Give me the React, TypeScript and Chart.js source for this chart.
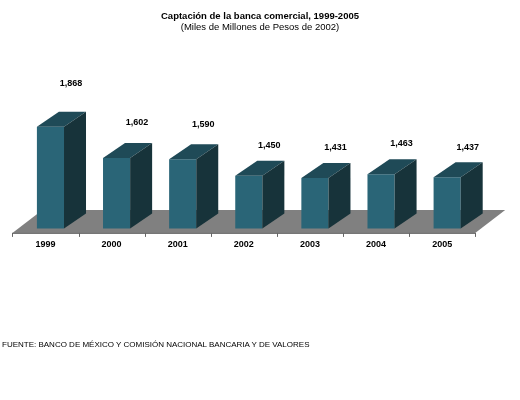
import React, { useEffect, useRef } from "react";
import { Chart, registerables } from "chart.js";

Chart.register(...registerables);

const years = ["1999", "2000", "2001", "2002", "2003", "2004", "2005"];
const captacion = [1868, 1602, 1590, 1450, 1431, 1463, 1437];
const yMin = 1000;
const yMax = 2000;

const titleText = "Captación de la banca comercial, 1999-2005";
const subtitleText = "(Miles de Millones de Pesos de 2002)";
const footerText = "FUENTE: BANCO DE MÉXICO Y COMISIÓN NACIONAL BANCARIA Y DE VALORES";

const FONT = "'Liberation Sans', Arial, Helvetica, sans-serif";
const FRONT = "#2a6577";
const TOP = "#1f4a57";
const SIDE = "#17333a";
const FLOOR = "#808080";
const BAR_DX = 22;
const BAR_DY = -15;
const FLOOR_DX = 30;
const FLOOR_DY = -23;
const FRONT_GAP_X = -5;
const FRONT_GAP_Y = 4.5;

const threeD = {
  id: "threeD",
  beforeDatasetsDraw(chart: any) {
    const { ctx, chartArea } = chart;
    const xs = chart.scales.x;
    const left = chartArea.left + FRONT_GAP_X;
    const right = chartArea.right + FRONT_GAP_X;
    const fy = chartArea.bottom + FRONT_GAP_Y;
    ctx.save();
    ctx.fillStyle = FLOOR;
    ctx.beginPath();
    ctx.moveTo(left, fy);
    ctx.lineTo(right, fy);
    ctx.lineTo(right + FLOOR_DX, fy + FLOOR_DY);
    ctx.lineTo(left + FLOOR_DX, fy + FLOOR_DY);
    ctx.closePath();
    ctx.fill();
    // axis line and tick marks
    ctx.strokeStyle = "#666666";
    ctx.lineWidth = 1;
    ctx.beginPath();
    ctx.moveTo(left, fy + 0.5);
    ctx.lineTo(right, fy + 0.5);
    const n = years.length;
    const step = xs.getPixelForValue(1) - xs.getPixelForValue(0);
    for (let i = 0; i <= n; i++) {
      const px = xs.getPixelForValue(Math.min(i, n - 1)) + (i < n ? -step / 2 : step / 2);
      const tx = Math.round(px + FRONT_GAP_X) + 0.5;
      ctx.moveTo(tx, fy);
      ctx.lineTo(tx, fy + 4);
    }
    ctx.stroke();
    ctx.restore();
  },
  afterDatasetsDraw(chart: any) {
    const { ctx } = chart;
    const ys = chart.scales.y;
    const meta = chart.getDatasetMeta(0);
    const base = ys.getPixelForValue(yMin);
    ctx.save();
    meta.data.forEach((bar: any, i: number) => {
      const { x, y, width } = bar.getProps(["x", "y", "width"], true);
      const L = x - width / 2;
      const R = x + width / 2;
      // top face
      ctx.fillStyle = TOP;
      ctx.beginPath();
      ctx.moveTo(L, y);
      ctx.lineTo(R, y);
      ctx.lineTo(R + BAR_DX, y + BAR_DY);
      ctx.lineTo(L + BAR_DX, y + BAR_DY);
      ctx.closePath();
      ctx.fill();
      // side face
      ctx.fillStyle = SIDE;
      ctx.beginPath();
      ctx.moveTo(R, y);
      ctx.lineTo(R + BAR_DX, y + BAR_DY);
      ctx.lineTo(R + BAR_DX, base + BAR_DY);
      ctx.lineTo(R, base);
      ctx.closePath();
      ctx.fill();
      // value label
      const v = captacion[i];
      const label = v.toLocaleString("en-US");
      ctx.fillStyle = "#000000";
      ctx.font = `bold 9px ${FONT}`;
      ctx.textAlign = "center";
      ctx.textBaseline = "middle";
      const ly = y - (16.5 + 0.0313 * (v - yMin));
      ctx.fillText(label, x + 20.5, ly);
    });
    ctx.restore();
  },
};

export default function App() {
  const ref = useRef<HTMLCanvasElement | null>(null);

  useEffect(() => {
    document.body.style.margin = "0";
    if (!ref.current) return;
    const chart = new Chart(ref.current, {
      type: "bar",
      data: {
        labels: years,
        datasets: [
          {
            data: captacion,
            backgroundColor: FRONT,
            borderWidth: 0,
            barPercentage: 0.41,
            categoryPercentage: 1,
          },
        ],
      },
      options: {
        responsive: false,
        animation: false,
        devicePixelRatio: 1,
        layout: {
          padding: { top: 111.3, left: 17.4, right: 39.8, bottom: 139.6 },
        },
        plugins: {
          legend: { display: false },
          tooltip: { enabled: false },
          title: { display: false },
        },
        scales: {
          x: {
            grid: { display: false, drawTicks: false },
            border: { display: false },
            ticks: {
              color: "#000000",
              font: { family: FONT, size: 9, weight: "bold", lineHeight: 1.2 },
              padding: 10.6,
              labelOffset: -5,
              maxRotation: 0,
              autoSkip: false,
            },
          },
          y: {
            display: false,
            min: yMin,
            max: yMax,
          },
        },
      },
      plugins: [threeD],
    });
    return () => chart.destroy();
  }, []);

  const textBase: React.CSSProperties = {
    position: "absolute",
    fontFamily: FONT,
    color: "#000000",
    whiteSpace: "nowrap",
  };

  return (
    <div style={{ position: "fixed", left: 0, top: 0, width: 520, height: 400, background: "#ffffff" }}>
      <canvas ref={ref} width={520} height={400} style={{ display: "block" }} />
      <div
        style={{
          ...textBase,
          left: 0,
          top: 9.5,
          width: 520,
          textAlign: "center",
          fontSize: 9.5,
          fontWeight: "bold",
          lineHeight: "11px",
        }}
      >
        {titleText}
      </div>
      <div
        style={{
          ...textBase,
          left: 0,
          top: 20.5,
          width: 520,
          textAlign: "center",
          fontSize: 9.5,
          lineHeight: "11px",
        }}
      >
        {subtitleText}
      </div>
      <div
        style={{
          ...textBase,
          left: 2,
          top: 339.5,
          fontSize: 8,
          lineHeight: "10px",
        }}
      >
        {footerText}
      </div>
    </div>
  );
}
